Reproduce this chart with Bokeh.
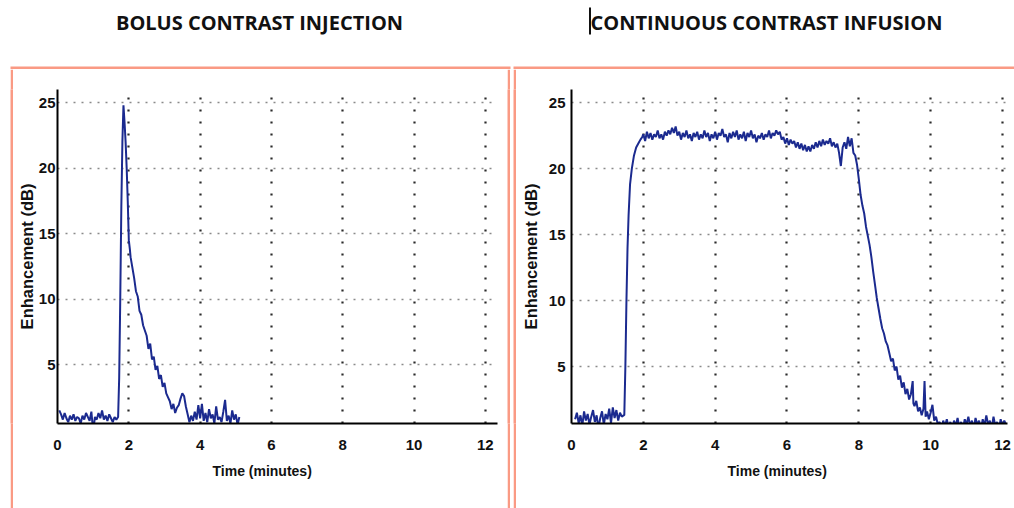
from bokeh.plotting import figure
from bokeh.models import Range1d, Label, FixedTicker, Title, Spacer
from bokeh.layouts import row, column
from bokeh.embed import file_html
from bokeh.resources import INLINE

# ---- data: enhancement (dB) over time (minutes) ----
bolus_time = [
    0.05, 0.10, 0.15, 0.20, 0.25, 0.30, 0.35, 0.40, 0.45, 0.50, 0.55, 0.60,
    0.65, 0.70, 0.75, 0.80, 0.85, 0.90, 0.95, 1.00, 1.05, 1.10, 1.15, 1.20,
    1.25, 1.30, 1.35, 1.40, 1.45, 1.50, 1.55, 1.60, 1.65, 1.70,
    1.73, 1.76, 1.79, 1.82, 1.85, 1.88, 1.91, 1.94, 1.97, 2.00, 2.03,
    2.05, 2.10, 2.15, 2.20, 2.25, 2.30, 2.35, 2.40, 2.45, 2.50, 2.55, 2.60,
    2.65, 2.70, 2.75, 2.80, 2.85, 2.90, 2.95, 3.00, 3.05, 3.10, 3.15, 3.20,
    3.25, 3.30, 3.35, 3.40, 3.45, 3.50, 3.55, 3.60, 3.65, 3.70,
    3.75, 3.80, 3.85, 3.90, 3.95, 4.00, 4.05, 4.10, 4.15, 4.20, 4.25, 4.30,
    4.35, 4.40, 4.45, 4.50, 4.55, 4.60, 4.65, 4.70, 4.75, 4.80, 4.85, 4.90,
    4.95, 5.00, 5.05, 5.10,
]
bolus_db = [
    1.5, 1.2, 0.8, 1.3, 0.9, 0.6, 1.1, 0.8, 1.2, 0.7, 1.0, 0.9,
    0.5, 1.1, 0.8, 1.3, 1.0, 0.7, 1.4, -0.1, 1.0, 0.8, 1.3, 0.9,
    1.5, 0.8, 1.1, 0.7, 1.2, 0.9, 0.6, 1.0, 0.8, 1.0,
    4.0, 10.0, 17.0, 22.0, 24.8, 23.5, 22.0, 20.0, 17.5, 14.5, 13.8,
    13.2, 12.4, 11.6, 10.6, 10.2, 9.1, 8.8, 8.0, 7.6, 7.2, 6.2, 6.6,
    5.4, 5.6, 4.6, 4.9, 3.9, 4.2, 3.3, 3.6, 2.8, 2.5, 2.2, 1.6,
    2.0, 1.3, 1.7, 1.9, 2.4, 2.8, 2.6, 1.8, 1.2, 0.6,
    1.1, 0.7, 1.4, 0.8, 1.9, 0.9, 2.0, 0.7, 1.3, 0.6, 1.6, 0.9,
    1.2, 0.5, 1.8, 0.8, 1.0, 0.6, 1.4, 2.3, 0.7, 1.1, 0.5, 1.5,
    0.8, 1.2, 0.4, 1.0,
]

infusion_time = [
    0.10, 0.15, 0.20, 0.25, 0.30, 0.35, 0.40, 0.45, 0.50, 0.55, 0.60, 0.65,
    0.70, 0.75, 0.80, 0.85, 0.90, 0.95, 1.00, 1.05, 1.10, 1.15, 1.20, 1.25,
    1.30, 1.35, 1.40, 1.45,
    1.47, 1.50, 1.53, 1.56, 1.59, 1.63, 1.68, 1.74, 1.80, 1.86, 1.92, 1.97,
    2.00, 2.05, 2.10, 2.15, 2.20, 2.25, 2.30, 2.35, 2.40, 2.45, 2.50, 2.55,
    2.60, 2.65, 2.70, 2.75, 2.80, 2.85, 2.90, 2.95, 3.00, 3.05, 3.10, 3.15,
    3.20, 3.25, 3.30, 3.35, 3.40, 3.45, 3.50, 3.55, 3.60, 3.65, 3.70, 3.75,
    3.80, 3.85, 3.90, 3.95, 4.00, 4.05, 4.10, 4.15, 4.20, 4.25, 4.30, 4.35,
    4.40, 4.45, 4.50, 4.55, 4.60, 4.65, 4.70, 4.75, 4.80, 4.85, 4.90, 4.95,
    5.00, 5.05, 5.10, 5.15, 5.20, 5.25, 5.30, 5.35, 5.40, 5.45, 5.50, 5.55,
    5.60, 5.65, 5.70, 5.75, 5.80, 5.85, 5.90, 5.95, 6.00, 6.05, 6.10, 6.15,
    6.20, 6.25, 6.30, 6.35, 6.40, 6.45, 6.50, 6.55, 6.60, 6.65, 6.70, 6.75,
    6.80, 6.85, 6.90, 6.95, 7.00, 7.05, 7.10, 7.15, 7.20, 7.25, 7.30, 7.35,
    7.40, 7.45, 7.50, 7.55, 7.60, 7.65, 7.70, 7.75, 7.80, 7.85,
    7.90, 7.95, 8.00, 8.05, 8.10, 8.15, 8.20, 8.25, 8.30, 8.35, 8.40, 8.45,
    8.50, 8.55, 8.60, 8.65, 8.70, 8.75, 8.80, 8.85, 8.90, 8.95, 9.00, 9.05,
    9.10, 9.15, 9.20, 9.25, 9.30, 9.35, 9.40, 9.45, 9.50, 9.52, 9.55, 9.60,
    9.65, 9.70, 9.75, 9.80, 9.83, 9.86, 9.90, 9.95, 10.00, 10.05, 10.10,
    10.15, 10.20,
    10.25, 10.30, 10.35, 10.40, 10.45, 10.50, 10.55, 10.60, 10.65, 10.70,
    10.75, 10.80, 10.85, 10.90, 10.95, 11.00, 11.05, 11.10, 11.15, 11.20,
    11.25, 11.30, 11.35, 11.40, 11.45, 11.50, 11.55, 11.60, 11.65, 11.70,
    11.75, 11.80, 11.85, 11.90, 11.95, 12.00, 12.05, 12.10,
]
infusion_db = [
    1.0, 1.5, 0.7, 1.3, 0.5, 1.6, 0.9, 1.4, 0.6, 1.2, 1.7, 0.8,
    1.3, 0.3, 1.1, 1.6, 0.6, 1.4, 1.0, 1.8, 0.7, 1.9, 1.1, 1.7,
    0.9, 1.5, 1.2, 1.3,
    1.3, 5.0, 10.0, 14.0, 16.5, 18.8, 20.0, 21.0, 21.6, 21.9, 22.2, 22.4,
    22.6, 22.1, 22.8, 22.3, 22.7, 22.2, 22.6, 22.4, 22.9, 22.3, 22.6, 22.2,
    22.8, 22.5, 22.9, 22.6, 23.1, 22.7, 23.2, 22.5, 22.8, 22.2, 22.7, 22.4,
    22.9, 22.3, 22.6, 22.1, 22.7, 22.4, 22.8, 22.2, 22.6, 22.3, 22.9, 22.4,
    22.7, 22.1, 22.6, 22.3, 22.8, 22.2, 22.7, 22.5, 23.0, 22.4, 22.6, 22.0,
    22.7, 22.3, 22.8, 22.4, 22.9, 22.2, 22.6, 22.3, 22.8, 22.1, 22.7, 22.4,
    22.9, 22.3, 22.6, 22.0, 22.5, 22.3, 22.7, 22.2, 22.6, 22.4, 22.9, 22.3,
    22.7, 22.5, 22.9, 22.6, 22.8, 22.2, 22.4, 21.9, 22.3, 21.8, 22.2, 21.9,
    22.1, 21.6, 22.0, 21.5, 21.9, 21.4, 21.8, 21.3, 21.7, 21.3, 21.8, 21.5,
    22.0, 21.6, 22.1, 21.7, 22.2, 21.8, 22.1, 21.9, 22.3, 21.7, 22.0, 21.6,
    21.9, 21.2, 20.2, 21.6, 22.0, 21.5, 22.4, 21.7, 22.3, 21.2,
    21.0, 20.3, 19.2, 18.0, 17.2, 16.6, 15.6, 14.9, 14.2, 13.3, 12.2, 11.2,
    10.2, 9.4, 8.6, 7.9, 7.5, 6.9, 6.6, 6.0, 5.4, 5.6, 4.7, 5.0,
    4.0, 4.3, 3.4, 3.8, 2.9, 3.3, 2.5, 2.9, 3.9, 2.2, 2.0, 2.4,
    1.6, 1.9, 1.3, 1.8, 3.9, 1.2, 1.6, 1.0, 1.5, 2.1, 0.9,
    1.2, 0.6,
    0.8, 0.3, 0.9, 0.5, 1.0, 0.4, 0.8, 0.2, 0.9, 0.5,
    1.1, 0.4, 0.8, 0.3, 1.0, 0.6, 1.2, 0.5, 0.9, 0.3,
    1.1, 0.6, 0.9, 0.2, 1.0, 0.5, 1.3, 0.6, 0.9, 0.3,
    1.2, 0.5, 0.8, 0.2, 1.0, 0.4, 0.9, 0.6,
]

x_ticks = [0, 2, 4, 6, 8, 10, 12]
y_ticks = [5, 10, 15, 20, 25]
panel_titles = ["BOLUS CONTRAST INJECTION", "CONTINUOUS CONTRAST INFUSION"]
x_label = "Time (minutes)"
y_label = "Enhancement (dB)"

CURVE = "#1b2a8f"
BORDER = "#fa9a84"
INK = "#111111"
AXIS_FONT = "Liberation Sans"

TOP_H = 69           # heading strip height
ROW_H = 508 - TOP_H  # height of the chart row


def blank(width, height, color="white"):
    """A figure with no axes whose frame fills the whole canvas."""
    f = figure(width=width, height=height, output_backend="svg",
               toolbar_location=None, min_border=0,
               x_axis_type=None, y_axis_type=None)
    f.grid.visible = False
    f.outline_line_color = None
    f.background_fill_color = color
    f.border_fill_color = color
    return f


# ---- heading strip with the panel headings and the top edges of the frames ----
head = blank(1014, TOP_H)
head.x_range = Range1d(0, 1014)
head.y_range = Range1d(TOP_H, 0)
head.quad(left=[10, 513], right=[510, 1014], top=[66, 66], bottom=[TOP_H, TOP_H],
          fill_color=BORDER, line_color=None)
head.quad(left=[588.5], right=[590.5], top=[7], bottom=[34],
          fill_color=INK, line_color=None)
for cx, txt in ((259, panel_titles[0]), (766, panel_titles[1])):
    head.add_layout(Label(x=cx, y=22, text=txt, text_align="center",
                          text_baseline="middle", text_font="Open Sans",
                          text_font_style="bold", text_font_size="20px",
                          text_color=INK))


def make_panel(width, frame_left, frame_right, frame_top, frame_bottom,
               x_end, y_start, times, values, tick_gap, label_gap, xlabel_left):
    p = figure(width=width, height=ROW_H, output_backend="svg",
               toolbar_location=None,
               x_range=Range1d(0, x_end), y_range=Range1d(y_start, 26.0),
               min_border_left=frame_left, min_border_right=width - frame_right,
               min_border_top=frame_top, min_border_bottom=ROW_H - frame_bottom)
    p.outline_line_color = None

    for ax in (p.xaxis[0], p.yaxis[0]):
        ax.axis_line_width = 2
        ax.axis_line_color = "black"
        ax.major_tick_out = 0
        ax.major_tick_in = 0
        ax.minor_tick_out = 0
        ax.minor_tick_in = 0
        ax.major_label_text_font = AXIS_FONT
        ax.major_label_text_font_style = "bold"
        ax.major_label_text_font_size = "15px"
        ax.major_label_text_color = INK
    p.xaxis.ticker = FixedTicker(ticks=x_ticks)
    p.yaxis.ticker = FixedTicker(ticks=y_ticks)
    p.xaxis.major_label_standoff = 16
    p.yaxis.major_label_standoff = tick_gap

    p.yaxis.axis_label = y_label
    p.yaxis.axis_label_text_font = AXIS_FONT
    p.yaxis.axis_label_text_font_style = "bold"
    p.yaxis.axis_label_text_font_size = "16.5px"
    p.yaxis.axis_label_text_color = INK
    p.yaxis.axis_label_standoff = label_gap

    p.add_layout(Title(text=x_label, align="left", offset=xlabel_left,
                       standoff=17, text_font=AXIS_FONT, text_font_style="bold",
                       text_font_size="14px", text_color=INK), "below")

    p.xgrid.ticker = FixedTicker(ticks=x_ticks)
    p.ygrid.ticker = FixedTicker(ticks=y_ticks)
    p.xgrid.grid_line_color = "#2a2a2a"
    p.xgrid.grid_line_width = 2.2
    p.xgrid.grid_line_dash = "2 10"
    p.ygrid.grid_line_color = "#8a8a8a"
    p.ygrid.grid_line_width = 1.6
    p.ygrid.grid_line_dash = "2 6"

    p.line(times, values, line_color=CURVE, line_width=2)
    return p


# page x of left chart: 13..507, right chart: 516..1014; chart row starts at y=69
left = make_panel(494, 44, 484, 16, 354, 12.34, 0.5, bolus_time, bolus_db,
                  2, 0, 155)
right = make_panel(498, 55, 491, 20, 355, 12.14, 0.68, infusion_time, infusion_db,
                   6, 6, 156)

charts = row(
    Spacer(width=10, height=ROW_H),
    blank(3, ROW_H, BORDER),
    left,
    blank(3, ROW_H, BORDER),
    Spacer(width=3, height=ROW_H),
    blank(3, ROW_H, BORDER),
    right,
    spacing=0,
)

layout = column(head, charts, spacing=0)
open("out.html", "w").write(file_html(layout, INLINE))
